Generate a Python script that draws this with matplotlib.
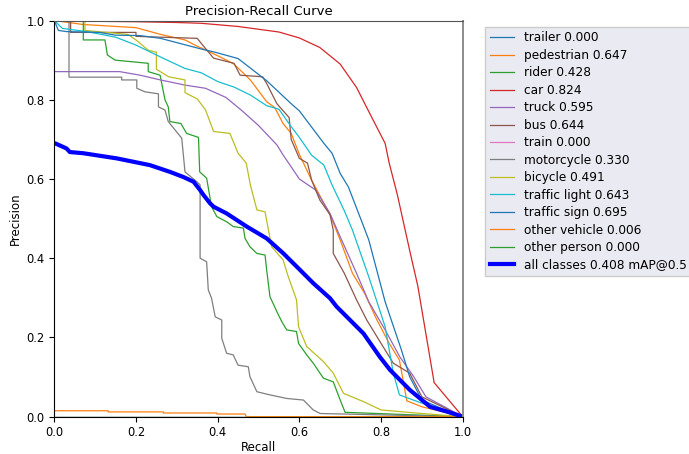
import matplotlib

matplotlib.use("Agg")
import matplotlib.pyplot as plt

# per-class precision/recall curves
class_names = ["trailer", "pedestrian", "rider", "car", "truck", "bus", "train",
               "motorcycle", "bicycle", "traffic light", "traffic sign",
               "other vehicle", "other person"]
class_ap = [0.000, 0.647, 0.428, 0.824, 0.595, 0.644, 0.000,
            0.330, 0.491, 0.643, 0.695, 0.006, 0.000]
map50 = 0.408

trailer_r = [0, 1.0]
trailer_p = [0, 0]

ped_r = [0, 0.07, 0.20, 0.26, 0.32, 0.35, 0.37, 0.41, 0.44, 0.48, 0.52, 0.54, 0.56, 0.58,
         0.60, 0.63, 0.675, 0.70, 0.73, 0.76, 0.79, 0.82, 0.845, 0.863, 0.90, 1.0]
ped_p = [1.0, 0.99, 0.982, 0.965, 0.951, 0.935, 0.926, 0.906, 0.89, 0.85, 0.795, 0.78, 0.74,
         0.715, 0.662, 0.597, 0.51, 0.446, 0.362, 0.311, 0.244, 0.185, 0.143, 0.04, 0.025, 0.0]

rider_r = [0, 0.071, 0.071, 0.124, 0.13, 0.149, 0.23, 0.23, 0.259, 0.271, 0.279, 0.283, 0.31,
           0.324, 0.353, 0.356, 0.373, 0.385, 0.398, 0.422, 0.438, 0.463, 0.467, 0.479, 0.496,
           0.516, 0.52, 0.528, 0.545, 0.557, 0.569, 0.593, 0.598, 0.618, 0.634, 0.659, 0.683,
           0.70, 0.712, 1.0]
rider_p = [1.0, 1.0, 0.951, 0.951, 0.913, 0.90, 0.892, 0.871, 0.862, 0.80, 0.782, 0.745, 0.74,
           0.715, 0.705, 0.618, 0.602, 0.53, 0.505, 0.492, 0.48, 0.476, 0.45, 0.429, 0.412,
           0.408, 0.37, 0.303, 0.265, 0.24, 0.219, 0.215, 0.185, 0.156, 0.135, 0.097, 0.088,
           0.042, 0.011, 0.0]

car_r = [0, 0.10, 0.20, 0.30, 0.36, 0.45, 0.55, 0.60, 0.65, 0.70, 0.74, 0.78, 0.81, 0.82,
         0.84, 0.855, 0.87, 0.89, 0.93, 1.0]
car_p = [1.0, 0.998, 0.997, 0.995, 0.993, 0.985, 0.971, 0.956, 0.932, 0.89, 0.831, 0.75,
         0.69, 0.64, 0.56, 0.49, 0.42, 0.33, 0.086, 0.0]

truck_r = [0, 0, 0.16, 0.21, 0.26, 0.32, 0.37, 0.42, 0.46, 0.50, 0.545, 0.56, 0.60, 0.64,
           0.675, 0.70, 0.74, 0.77, 0.81, 0.846, 0.88, 0.91, 1.0]
truck_p = [1.0, 0.871, 0.871, 0.862, 0.85, 0.837, 0.829, 0.806, 0.772, 0.735, 0.686, 0.661,
           0.60, 0.572, 0.513, 0.454, 0.362, 0.29, 0.219, 0.151, 0.101, 0.05, 0.0]

bus_r = [0, 0.04, 0.04, 0.20, 0.20, 0.35, 0.36, 0.39, 0.44, 0.455, 0.51, 0.52, 0.545, 0.575,
         0.58, 0.60, 0.62, 0.63, 0.65, 0.675, 0.683, 0.683, 0.71, 0.74, 0.765, 0.80, 0.83,
         0.87, 0.90, 1.0]
bus_p = [1.0, 1.0, 0.97, 0.97, 0.96, 0.955, 0.942, 0.905, 0.892, 0.862, 0.858, 0.841, 0.79,
         0.755, 0.70, 0.652, 0.64, 0.597, 0.547, 0.51, 0.471, 0.412, 0.362, 0.295, 0.244,
         0.185, 0.135, 0.11, 0.05, 0.0]

train_r = [0, 1.0]
train_p = [0, 0]

moto_r = [0, 0.036, 0.036, 0.165, 0.165, 0.202, 0.202, 0.222, 0.255, 0.255, 0.271, 0.279,
          0.312, 0.32, 0.349, 0.357, 0.357, 0.373, 0.377, 0.385, 0.394, 0.41, 0.41, 0.422,
          0.438, 0.45, 0.475, 0.479, 0.496, 0.528, 0.569, 0.61, 0.634, 0.651, 1.0]
moto_p = [1.0, 1.0, 0.857, 0.857, 0.85, 0.85, 0.829, 0.82, 0.815, 0.782, 0.774, 0.745, 0.703,
          0.618, 0.593, 0.585, 0.40, 0.391, 0.32, 0.299, 0.252, 0.244, 0.198, 0.16, 0.156,
          0.13, 0.126, 0.101, 0.063, 0.055, 0.046, 0.042, 0.017, 0.008, 0.0]

bike_r = [0, 0.075, 0.075, 0.18, 0.20, 0.23, 0.25, 0.25, 0.28, 0.32, 0.32, 0.35, 0.37, 0.39,
          0.43, 0.45, 0.47, 0.48, 0.496, 0.516, 0.532, 0.56, 0.573, 0.593, 0.598, 0.618,
          0.659, 0.683, 0.708, 0.757, 0.80, 0.90, 1.0]
bike_p = [1.0, 1.0, 0.975, 0.965, 0.951, 0.925, 0.92, 0.877, 0.858, 0.85, 0.818, 0.802, 0.775,
          0.72, 0.715, 0.665, 0.64, 0.585, 0.522, 0.517, 0.429, 0.396, 0.353, 0.295, 0.227,
          0.177, 0.139, 0.11, 0.059, 0.038, 0.017, 0.008, 0.0]

light_r = [0, 0.02, 0.08, 0.15, 0.20, 0.26, 0.32, 0.36, 0.40, 0.44, 0.48, 0.52, 0.55, 0.58,
           0.60, 0.63, 0.66, 0.68, 0.71, 0.73, 0.77, 0.81, 0.83, 0.845, 0.90, 1.0]
light_p = [1.0, 0.98, 0.972, 0.958, 0.938, 0.908, 0.879, 0.868, 0.846, 0.832, 0.812, 0.785,
           0.776, 0.732, 0.705, 0.66, 0.635, 0.585, 0.52, 0.471, 0.353, 0.227, 0.11, 0.055,
           0.034, 0.0]

sign_r = [0, 0.01, 0.03, 0.11, 0.15, 0.21, 0.26, 0.36, 0.39, 0.45, 0.52, 0.58, 0.60, 0.66,
          0.68, 0.70, 0.72, 0.75, 0.77, 0.81, 0.85, 0.87, 0.90, 0.95, 1.0]
sign_p = [1.0, 0.975, 0.972, 0.97, 0.963, 0.962, 0.955, 0.928, 0.921, 0.904, 0.848, 0.79,
          0.772, 0.69, 0.665, 0.614, 0.58, 0.50, 0.446, 0.29, 0.168, 0.101, 0.042, 0.02, 0.0]

ov_r = [0, 0.132, 0.132, 0.267, 0.267, 0.398, 0.398, 0.467, 0.47, 1.0]
ov_p = [0.015, 0.015, 0.012, 0.012, 0.0093, 0.0093, 0.0067, 0.0067, 0.0, 0.0]

op_r = [0, 1.0]
op_p = [0, 0]

all_r = [0, 0.002, 0.03, 0.038, 0.071, 0.153, 0.234, 0.283, 0.316, 0.341, 0.357, 0.365, 0.381,
         0.39, 0.422, 0.471, 0.52, 0.561, 0.602, 0.634, 0.675, 0.691, 0.724, 0.757, 0.797,
         0.822, 0.871, 0.92, 0.961, 1.0]
all_p = [0.69, 0.69, 0.677, 0.668, 0.665, 0.652, 0.635, 0.618, 0.605, 0.593, 0.572, 0.56,
         0.539, 0.53, 0.513, 0.48, 0.45, 0.412, 0.37, 0.337, 0.299, 0.278, 0.244, 0.21, 0.151,
         0.118, 0.067, 0.025, 0.013, 0.0]

curves = [(trailer_r, trailer_p), (ped_r, ped_p), (rider_r, rider_p), (car_r, car_p),
          (truck_r, truck_p), (bus_r, bus_p), (train_r, train_p), (moto_r, moto_p),
          (bike_r, bike_p), (light_r, light_p), (sign_r, sign_p), (ov_r, ov_p), (op_r, op_p)]

fig = plt.figure(figsize=(6.89, 4.54), dpi=100)
ax = fig.add_axes([0.0788, 0.0822, 0.5928, 0.8726])

for i, ((r, p), name, ap) in enumerate(zip(curves, class_names, class_ap)):
    ax.plot(r, p, lw=0.9, color=f"C{i % 10}", label=f"{name} {ap:.3f}")
ax.plot(all_r, all_p, lw=3, color="blue", label=f"all classes {map50:.3f} mAP@0.5")

ax.set_xlim(0, 1)
ax.set_ylim(0, 1)
ax.set_xlabel("Recall", fontsize=8.5, labelpad=1)
ax.set_ylabel("Precision", fontsize=8.5, labelpad=3)
ax.set_title("Precision-Recall Curve", fontsize=9.5, pad=4)
ax.tick_params(labelsize=8.3)
ax.spines["top"].set_color("#555555")
ax.spines["right"].set_color("#8c8c8c")
ax.spines["right"].set_linewidth(1.4)

ax.legend(bbox_to_anchor=(1.04, 1), loc="upper left", fontsize=8.7, labelspacing=0.37,
          facecolor="#eaeaf2", edgecolor="#cccccc", framealpha=1, fancybox=False)

fig.savefig("out.png", dpi=100)
plt.close(fig)
